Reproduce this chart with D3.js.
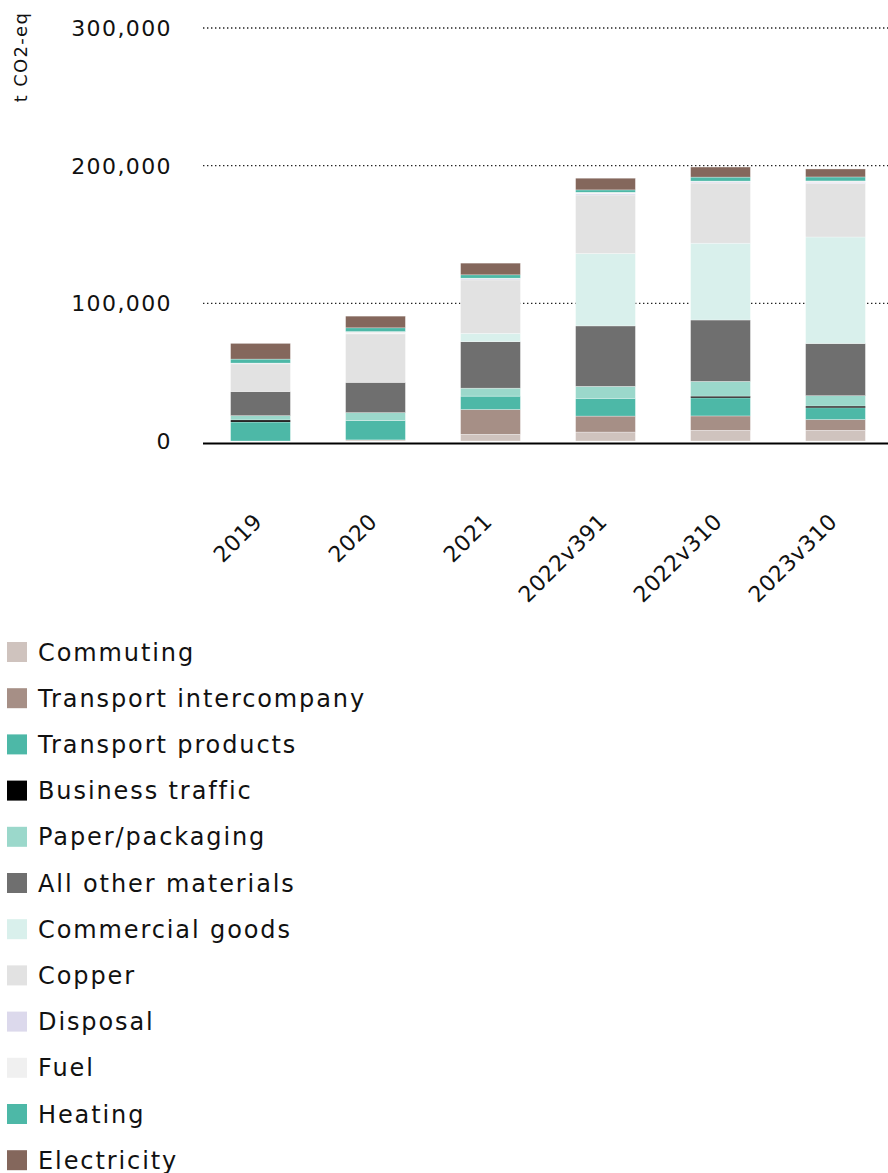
<!DOCTYPE html>
<html>
<head>
<meta charset="utf-8">
<script src="https://cdn.jsdelivr.net/npm/d3@7"></script>
<style>
  body { margin: 0; background: #fff; }
  svg text { font-family: "DejaVu Sans", sans-serif; fill: #111; }
</style>
</head>
<body>
<svg id="chart" width="888" height="1173"></svg>
<script>
// categories and series values (t CO2-eq)
var categories = ["2019", "2020", "2021", "2022v391", "2022v310", "2023v310"];

var commuting             = [0, 800, 4900, 6500, 7800, 7800];
var transportIntercompany = [0, 0, 18000, 11600, 10400, 7800];
var transportProducts     = [13800, 14000, 9700, 12900, 13100, 8500];
var businessTraffic       = [1500, 0, 0, 0, 1300, 1300];
var paperPackaging        = [3100, 5800, 5800, 8700, 10700, 7500];
var allOtherMaterials     = [17500, 22000, 33700, 43900, 44600, 37900];
var commercialGoods       = [0, 0, 6100, 52600, 55800, 77400];
var copper                = [20100, 35200, 38800, 42500, 43700, 38800];
var disposal              = [300, 200, 1000, 1000, 800, 1000];
var fuel                  = [300, 1500, 300, 1000, 600, 900];
var heating               = [2900, 2700, 2400, 1700, 2900, 2900];
var electricity           = [11400, 8500, 8500, 8500, 7300, 5800];

var yTicks = [0, 100000, 200000, 300000];

var seriesNames = ["Commuting", "Transport intercompany", "Transport products", "Business traffic",
  "Paper/packaging", "All other materials", "Commercial goods", "Copper", "Disposal", "Fuel",
  "Heating", "Electricity"];
var seriesValues = [commuting, transportIntercompany, transportProducts, businessTraffic,
  paperPackaging, allOtherMaterials, commercialGoods, copper, disposal, fuel, heating, electricity];
var seriesColors = ["#cfc3be", "#a68f86", "#4db8a7", "#000000", "#9bd8cb", "#6f6f6f",
  "#d9f0ec", "#e2e2e2", "#dcd9ec", "#f0f0f0", "#4db8a7", "#84675c"];

// build rows for d3.stack
var rows = categories.map(function(c, i) {
  var r = {category: c};
  seriesNames.forEach(function(n, k) { r[n] = seriesValues[k][i]; });
  return r;
});

var svg = d3.select("#chart");

var x = d3.scaleBand()
  .domain(categories)
  .range([203, 893])
  .paddingInner(0.48)
  .paddingOuter(0.24);

var y = d3.scaleLinear()
  .domain([0, 300000])
  .range([441, 28]);

var color = d3.scaleOrdinal().domain(seriesNames).range(seriesColors);

// dotted gridlines
svg.append("g")
  .selectAll("line")
  .data(yTicks.filter(function(d) { return d > 0; }))
  .enter().append("line")
    .attr("x1", 203)
    .attr("x2", 888)
    .attr("y1", function(d) { return y(d); })
    .attr("y2", function(d) { return y(d); })
    .attr("stroke", "#222")
    .attr("stroke-width", 1.4)
    .attr("stroke-dasharray", "1.4,2.6");

// y tick labels
svg.append("g")
  .selectAll("text")
  .data(yTicks)
  .enter().append("text")
    .attr("x", 172)
    .attr("y", function(d) { return y(d); })
    .attr("dy", "0.36em")
    .attr("text-anchor", "end")
    .style("font-size", "22px")
    .style("letter-spacing", "1.4px")
    .text(function(d) { return d3.format(",")(d); });

// y axis title
svg.append("text")
  .attr("transform", "translate(27,57) rotate(-90)")
  .attr("text-anchor", "middle")
  .style("font-size", "18px")
  .style("letter-spacing", "1.3px")
  .text("t CO2-eq");

// stacked bars
var stack = d3.stack().keys(seriesNames);
var layers = stack(rows);

svg.append("g")
  .selectAll("g")
  .data(layers)
  .enter().append("g")
    .attr("fill", function(d) { return color(d.key); })
  .selectAll("rect")
  .data(function(d) { return d; })
  .enter().append("rect")
    .attr("x", function(d) { return x(d.data.category); })
    .attr("y", function(d) { return y(d[1]); })
    .attr("width", x.bandwidth())
    .attr("height", function(d) { return y(d[0]) - y(d[1]); })
    .attr("stroke", "#fff")
    .attr("stroke-width", 0.5)
    .attr("stroke-opacity", 0.6);

// baseline
svg.append("line")
  .attr("x1", 203)
  .attr("x2", 888)
  .attr("y1", 443.5)
  .attr("y2", 443.5)
  .attr("stroke", "#000")
  .attr("stroke-width", 2);

// x labels, rotated
svg.append("g")
  .selectAll("text")
  .data(categories)
  .enter().append("text")
    .attr("transform", function(d) {
      return "translate(" + (x(d) + x.bandwidth() / 2 + 3) + ",523) rotate(-45)";
    })
    .attr("text-anchor", "end")
    .style("font-size", "22px")
    .style("letter-spacing", "0.4px")
    .text(function(d) { return d; });

// legend
var legend = svg.append("g")
  .selectAll("g")
  .data(seriesNames)
  .enter().append("g")
    .attr("transform", function(d, i) { return "translate(0," + (652 + i * 46.2) + ")"; });

legend.append("rect")
  .attr("x", 7)
  .attr("y", -10)
  .attr("width", 20)
  .attr("height", 20)
  .attr("fill", function(d) { return color(d); });

legend.append("text")
  .attr("x", 38)
  .attr("y", 0)
  .attr("dy", "0.36em")
  .style("font-size", "24px")
  .style("letter-spacing", "1.9px")
  .text(function(d) { return d; });
</script>
</body>
</html>
